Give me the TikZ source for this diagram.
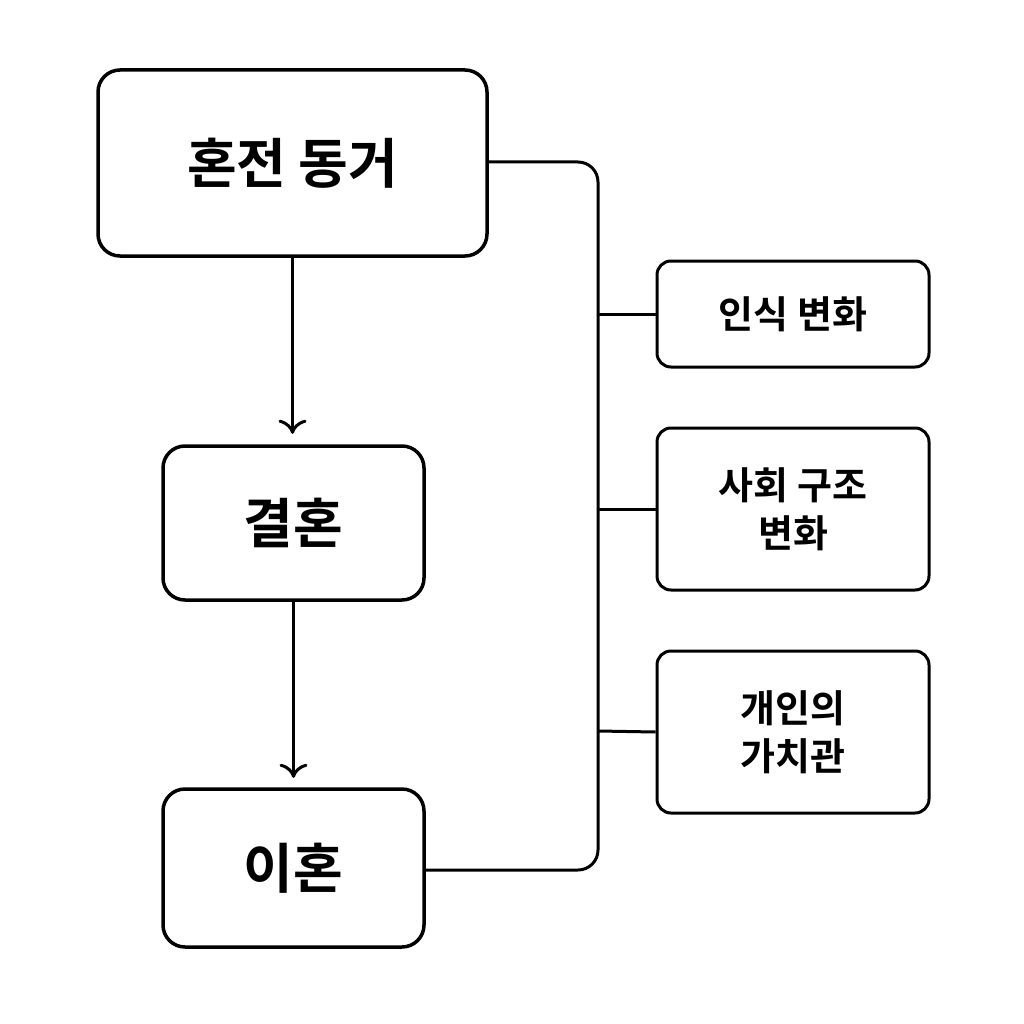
\documentclass[tikz,border=0pt]{standalone}
\usepackage{fontspec}
\newfontfamily\kr{Noto Sans CJK KR Bold}
\usetikzlibrary{arrows.meta}
\begin{document}
\begin{tikzpicture}[x=1pt,y=-1pt,
  big/.style={draw,line width=3.5pt,rounded corners=22pt,inner sep=0pt,font=\kr\fontsize{54}{60}\selectfont},
  small/.style={draw,line width=3pt,rounded corners=14pt,inner sep=0pt,minimum width=272pt,font=\kr\fontsize{38}{48}\selectfont,align=center},
  conn/.style={line width=3pt},
  arr/.style={line width=3pt,-{To[length=14pt,width=28pt,line width=3pt]}}]
\useasboundingbox (0,0) rectangle (1024,1024);
\node[big,minimum width=389pt,minimum height=186pt] (a) at (292.5,163) {혼전 동거};
\node[big,minimum width=261pt,minimum height=154pt] (b) at (293.5,523) {결혼};
\node[big,minimum width=261pt,minimum height=158pt] (c) at (293.5,868) {이혼};
\node[small,minimum height=106pt] (d) at (793,314) {인식 변화};
\node[small,minimum height=162pt] (e) at (793,509) {사회 구조\\변화};
\node[small,minimum height=162pt] (f) at (793,732) {개인의\\가치관};
\draw[arr] (a.south) -- ++(0,176);
\draw[arr] (b.south) -- ++(0,176);
\coordinate (t) at (598,162);
\draw[conn,rounded corners=20pt] (a.east |- t) -- (t) -- (598,870) -- (c.east |- 0,870);
\draw[conn] (598,314) -- (d.west);
\draw[conn] (598,509) -- (e.west);
\draw[conn] (598,731) -- (f.west);
\end{tikzpicture}
\end{document}
